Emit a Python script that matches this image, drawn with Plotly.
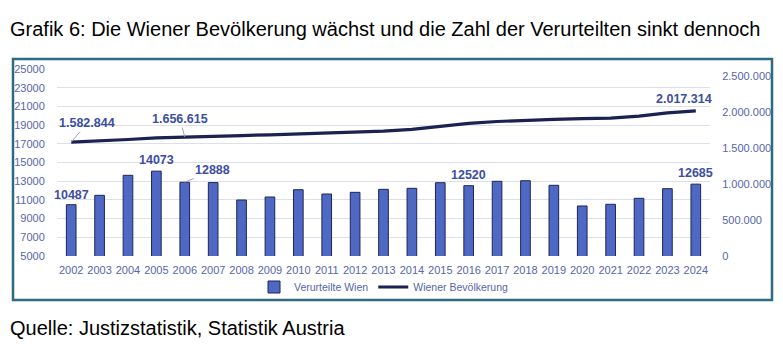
import plotly.graph_objects as go

years = list(range(2002, 2025))
verurteilte = [10487, 11490, 13630, 14073, 12888, 12850, 10990, 11310, 12090, 11630,
               11810, 12130, 12240, 12840, 12520, 12990, 13050, 12560, 10350, 10530,
               11170, 12200, 12685]
bevoelkerung = [1582844, 1598000, 1620000, 1642000, 1656615, 1665000, 1675000, 1685000,
                1695000, 1705000, 1718000, 1735000, 1760000, 1800000, 1845000, 1870000,
                1888000, 1900000, 1910000, 1918000, 1945000, 1990000, 2017314]
left_ticks = list(range(5000, 25001, 2000))
right_ticks = [0, 500000, 1000000, 1500000, 2000000, 2500000]
right_ticklabels = ["0", "500.000", "1.000.000", "1.500.000", "2.000.000", "2.500.000"]

FONT = "Liberation Sans, Arial, sans-serif"
TICK_COL = "#5566aa"
LBL_COL = "#3b4ea3"

fig = go.Figure()
fig.add_trace(go.Bar(
    x=years, y=verurteilte, name="Verurteilte Wien",
    marker=dict(color="#4f68c4", line=dict(color="#1c2657", width=1)),
    width=0.34,
))
fig.add_trace(go.Scatter(
    x=years, y=bevoelkerung, name="Wiener Bevölkerung", yaxis="y2",
    mode="lines", line=dict(color="#1b2150", width=3.2),
))

def fmt_de(v):
    return f"{v:,}".replace(",", ".")

ann = []
lblfont = dict(family=FONT, size=12.5, color=LBL_COL)
# bar labels
for yr, dx, dy, arrow in [(2002, 0, -10, False), (2005, 0, -11, False),
                          (2006, 28, -12, True), (2016, 0, -11, False),
                          (2024, 0, -11, False)]:
    i = years.index(yr)
    if arrow:
        ann.append(dict(x=yr, y=verurteilte[i], xref="x", yref="y", text=f"<b>{verurteilte[i]}</b>",
                        showarrow=True, ax=dx, ay=dy, arrowhead=0, arrowwidth=1,
                        arrowcolor="#a0a4b0", standoff=0, font=lblfont))
    else:
        ann.append(dict(x=yr, y=verurteilte[i], xref="x", yref="y", text=f"<b>{verurteilte[i]}</b>",
                        showarrow=False, xshift=dx, yshift=-dy, yanchor="middle", font=lblfont))
# line labels
for yr, dx, dy, arrow in [(2002, 16, -19, True), (2006, -5, -18, True),
                          (2024, -12, -12, False)]:
    i = years.index(yr)
    if arrow:
        ann.append(dict(x=yr, y=bevoelkerung[i], xref="x", yref="y2",
                        text=f"<b>{fmt_de(bevoelkerung[i])}</b>",
                        showarrow=True, ax=dx, ay=dy, arrowhead=0, arrowwidth=1,
                        arrowcolor="#a0a4b0", standoff=0, font=lblfont))
    else:
        ann.append(dict(x=yr, y=bevoelkerung[i], xref="x", yref="y2",
                        text=f"<b>{fmt_de(bevoelkerung[i])}</b>",
                        showarrow=False, xshift=dx, yshift=-dy, yanchor="middle", font=lblfont))

# titles
ann.append(dict(xref="paper", yref="paper", x=-49/653, y=1 + 40/187, xanchor="left", yanchor="middle",
                text="Grafik 6: Die Wiener Bevölkerung wächst und die Zahl der Verurteilten sinkt dennoch",
                showarrow=False, font=dict(family=FONT, size=20, color="#000000")))
ann.append(dict(xref="paper", yref="paper", x=-49/653, y=-(328-256)/187, xanchor="left", yanchor="middle",
                text="Quelle: Justizstatistik, Statistik Austria",
                showarrow=False, font=dict(family=FONT, size=20, color="#000000")))

fig.update_layout(
    width=783, height=357,
    margin=dict(l=57, r=73, t=69, b=101, pad=0),
    paper_bgcolor="white", plot_bgcolor="white",
    font=dict(family=FONT, size=11, color=TICK_COL),
    xaxis=dict(range=[2001.5, 2024.5], tickvals=years, ticktext=[str(y) for y in years],
               showgrid=False, showline=False, zeroline=False, automargin=False,
               ticks="outside", ticklen=4, tickcolor="rgba(0,0,0,0)",
               tickfont=dict(size=11, color=TICK_COL)),
    yaxis=dict(range=[5000, 25000], tickvals=left_ticks, ticktext=[str(v) for v in left_ticks],
               showgrid=True, automargin=False,
               gridcolor="#dde0ea", gridwidth=1, zeroline=False, showline=False,
               ticks="outside", ticklen=9, tickcolor="rgba(0,0,0,0)",
               tickfont=dict(size=11, color=TICK_COL)),
    yaxis2=dict(range=[0, 2600000], overlaying="y", side="right", automargin=False,
                tickvals=right_ticks, ticktext=right_ticklabels, showgrid=False,
                zeroline=False, showline=False,
                ticks="outside", ticklen=9, tickcolor="rgba(0,0,0,0)",
                tickfont=dict(size=11, color=TICK_COL)),
    legend=dict(orientation="h", x=0.5, xanchor="center", y=-(287-256)/187, yanchor="middle",
                font=dict(size=10.5, color=TICK_COL), bgcolor="rgba(0,0,0,0)"),
    showlegend=True,
    annotations=ann,
    shapes=[dict(type="rect", xref="paper", yref="paper",
                 x0=-44/653, x1=(772-57)/653, y0=-(300-256)/187, y1=1 + 10/187,
                 line=dict(color="#2e6a80", width=2.5), fillcolor="rgba(0,0,0,0)", layer="below")],
)

fig.write_html("out.html", config={"displayModeBar": False},
               post_script="document.body.style.margin='0';document.body.style.overflow='hidden';")
